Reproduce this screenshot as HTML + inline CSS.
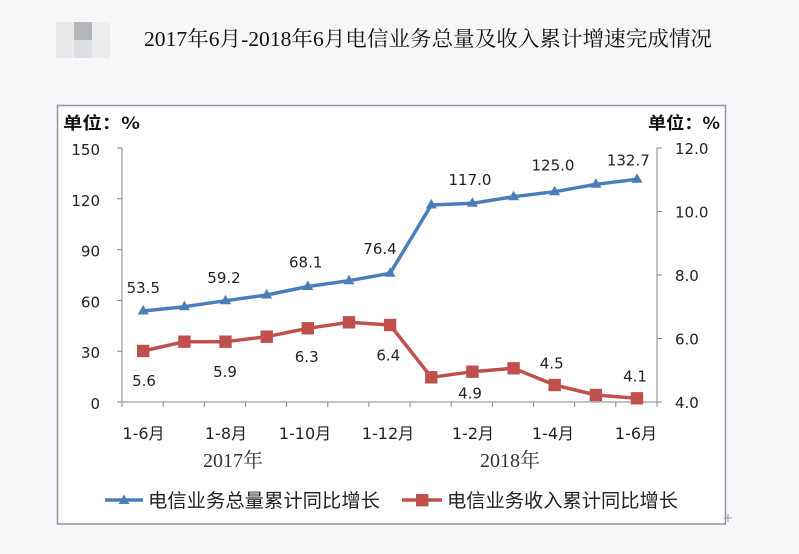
<!DOCTYPE html>
<html><head><meta charset="utf-8"><style>
html,body{margin:0;padding:0;background:#f7f7f9;}
svg{display:block;}
</style></head><body>
<svg width="799" height="554" viewBox="0 0 799 554" xmlns="http://www.w3.org/2000/svg">
<rect x="0" y="0" width="799" height="554" fill="#f7f7f9"/>
<!-- blurred logo -->
<rect x="56" y="22" width="18" height="18" fill="#ebe9e6"/>
<rect x="74" y="22" width="18" height="18" fill="#b4b6b9"/>
<rect x="92" y="22" width="18" height="18" fill="#eeeeee"/>
<rect x="56" y="40" width="18" height="18" fill="#eaeaec"/>
<rect x="74" y="40" width="18" height="18" fill="#dcdfe2"/>
<rect x="92" y="40" width="18" height="18" fill="#ececec"/>
<text x="144" y="46" font-family="Liberation Serif, Noto Serif CJK SC, serif" font-size="21" fill="#111" textLength="568" lengthAdjust="spacingAndGlyphs">2017年6月-2018年6月电信业务总量及收入累计增速完成情况</text>

<!-- chart box -->
<rect x="57.5" y="105.5" width="668" height="418.5" fill="#ffffff" stroke="#8a97a8" stroke-width="1.5"/>
<path d="M724 518 h8 M728 514 v8" stroke="#999" stroke-width="1"/>

<g font-family="Noto Sans CJK SC, sans-serif" font-weight="bold" font-size="17" fill="#111">
<text x="63" y="129" textLength="77" lengthAdjust="spacingAndGlyphs">单位：%</text>
<text x="648" y="129" textLength="72" lengthAdjust="spacingAndGlyphs">单位：%</text>
</g>

<!-- axes -->
<g stroke="#868686" stroke-width="1" fill="none">
<path d="M122 148 V402 H657 V148"/>
<path d="M117 148 H122 M117 198.8 H122 M117 249.6 H122 M117 300.4 H122 M117 351.2 H122 M117 402 H122"/>
<path d="M657 148 H662 M657 211.5 H662 M657 275 H662 M657 338.5 H662 M657 402 H662"/>
<path d="M122 402 v5 M163.2 402 v5 M204.3 402 v5 M245.5 402 v5 M286.6 402 v5 M327.8 402 v5 M368.9 402 v5 M410.1 402 v5 M451.2 402 v5 M492.4 402 v5 M533.5 402 v5 M574.7 402 v5 M615.8 402 v5 M657 402 v5"/>
</g>

<g font-family="DejaVu Sans, Liberation Sans, sans-serif" font-size="15" fill="#222">
<g text-anchor="end">
<text x="100" y="155">150</text>
<text x="100" y="205.8">120</text>
<text x="100" y="256.6">90</text>
<text x="100" y="307.4">60</text>
<text x="100" y="358.2">30</text>
<text x="100" y="409">0</text>
</g>
<text x="675" y="154">12.0</text>
<text x="675" y="217.5">10.0</text>
<text x="675" y="281">8.0</text>
<text x="675" y="344.5">6.0</text>
<text x="675" y="408">4.0</text>
</g>

<!-- x labels -->
<g font-family="DejaVu Sans, Noto Sans CJK SC, sans-serif" font-size="16" fill="#222" text-anchor="middle">
<text x="143.5" y="439">1-6月</text>
<text x="226" y="439">1-8月</text>
<text x="305" y="439">1-10月</text>
<text x="388" y="439">1-12月</text>
<text x="473" y="439">1-2月</text>
<text x="553" y="439">1-4月</text>
<text x="636" y="439">1-6月</text>
</g>
<g font-family="Liberation Serif, Noto Serif CJK SC, serif" font-size="20" fill="#333" text-anchor="middle">
<text x="233" y="467">2017年</text>
<text x="510" y="467">2018年</text>
</g>

<!-- blue series -->
<polyline fill="none" stroke="#4a7ebb" stroke-width="3.5" stroke-linejoin="round" points="143.2,311 184.4,306.7 225.5,300.7 266.7,295 307.8,286.5 349,280.7 390.1,273.3 431.3,205 472.4,203.3 513.6,196.7 554.7,191.7 595.9,184.3 637,179.3"/>
<g fill="#4a7ebb">
<path d="M143.2 305 l5.5 9.5 h-11z"/>
<path d="M184.4 300.7 l5.5 9.5 h-11z"/>
<path d="M225.5 294.7 l5.5 9.5 h-11z"/>
<path d="M266.7 289 l5.5 9.5 h-11z"/>
<path d="M307.8 280.5 l5.5 9.5 h-11z"/>
<path d="M349 274.7 l5.5 9.5 h-11z"/>
<path d="M390.1 267.3 l5.5 9.5 h-11z"/>
<path d="M431.3 199 l5.5 9.5 h-11z"/>
<path d="M472.4 197.3 l5.5 9.5 h-11z"/>
<path d="M513.6 190.7 l5.5 9.5 h-11z"/>
<path d="M554.7 185.7 l5.5 9.5 h-11z"/>
<path d="M595.9 178.3 l5.5 9.5 h-11z"/>
<path d="M637 173.3 l5.5 9.5 h-11z"/>
</g>

<!-- red series -->
<polyline fill="none" stroke="#c0504d" stroke-width="3.5" stroke-linejoin="round" points="143.2,351 184.4,341.7 225.5,341.7 266.7,336.7 307.8,328.3 349,322.3 390.1,325 431.3,377.3 472.4,371.7 513.6,368.3 554.7,385 595.9,395 637,398.3"/>
<g fill="#c0504d">
<rect x="137" y="344.8" width="12.4" height="12.4"/>
<rect x="178.2" y="335.5" width="12.4" height="12.4"/>
<rect x="219.3" y="335.5" width="12.4" height="12.4"/>
<rect x="260.5" y="330.5" width="12.4" height="12.4"/>
<rect x="301.6" y="322.1" width="12.4" height="12.4"/>
<rect x="342.8" y="316.1" width="12.4" height="12.4"/>
<rect x="383.9" y="318.8" width="12.4" height="12.4"/>
<rect x="425.1" y="371.1" width="12.4" height="12.4"/>
<rect x="466.2" y="365.5" width="12.4" height="12.4"/>
<rect x="507.4" y="362.1" width="12.4" height="12.4"/>
<rect x="548.5" y="378.8" width="12.4" height="12.4"/>
<rect x="589.7" y="388.8" width="12.4" height="12.4"/>
<rect x="630.8" y="392.1" width="12.4" height="12.4"/>
</g>

<!-- data labels -->
<g font-family="DejaVu Sans, Liberation Sans, sans-serif" font-size="15" fill="#222" text-anchor="middle">
<text x="143.3" y="293">53.5</text>
<text x="224" y="283">59.2</text>
<text x="305.7" y="267.5">68.1</text>
<text x="380" y="254">76.4</text>
<text x="470" y="185">117.0</text>
<text x="553" y="170.5">125.0</text>
<text x="628.3" y="165.5">132.7</text>
<text x="144" y="386">5.6</text>
<text x="225" y="377">5.9</text>
<text x="306.7" y="362">6.3</text>
<text x="388.3" y="360.5">6.4</text>
<text x="470" y="398.5">4.9</text>
<text x="551.7" y="368.5">4.5</text>
<text x="635" y="381.5">4.1</text>
</g>

<!-- legend -->
<path d="M105 500 H143" stroke="#4a7ebb" stroke-width="3.5"/>
<path d="M124 494.5 l5.5 9.5 h-11z" fill="#4a7ebb"/>
<text x="148" y="507" font-family="Noto Sans CJK SC, sans-serif" font-size="19" fill="#222" textLength="232" lengthAdjust="spacingAndGlyphs">电信业务总量累计同比增长</text>
<path d="M402 500 H442" stroke="#c0504d" stroke-width="3.5"/>
<rect x="416" y="494" width="12.4" height="12.4" fill="#c0504d"/>
<text x="447" y="507" font-family="Noto Sans CJK SC, sans-serif" font-size="19" fill="#222" textLength="231" lengthAdjust="spacingAndGlyphs">电信业务收入累计同比增长</text>
</svg>
</body></html>
